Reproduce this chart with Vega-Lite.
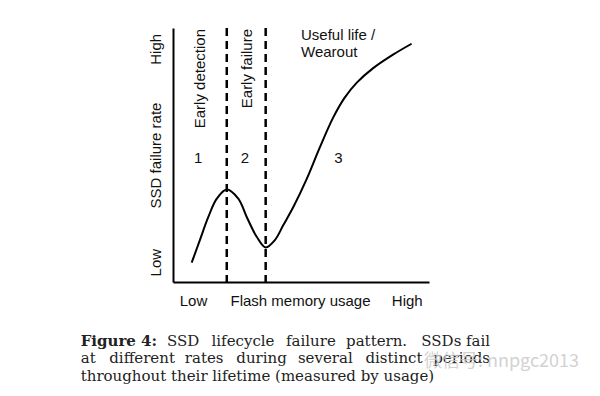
{
  "$schema": "https://vega.github.io/schema/vega-lite/v6.json",
  "width": 256,
  "height": 254,
  "autosize": {"type": "none"},
  "padding": {"left": 173, "top": 28, "right": 171, "bottom": 114},
  "background": "white",
  "config": {"view": {"stroke": null}, "font": "Liberation Sans"},
  "datasets": {
    "curve": [
      {"usage": 7.3, "rate": 7.6},
      {"usage": 10.5, "rate": 16.5},
      {"usage": 13.8, "rate": 25.6},
      {"usage": 17.1, "rate": 32.8},
      {"usage": 21.0, "rate": 36.4},
      {"usage": 25.5, "rate": 32.8},
      {"usage": 28.8, "rate": 25.6},
      {"usage": 32.7, "rate": 17.8},
      {"usage": 36.2, "rate": 13.6},
      {"usage": 39.8, "rate": 16.5},
      {"usage": 43.1, "rate": 22.4},
      {"usage": 47.0, "rate": 29.5},
      {"usage": 52.2, "rate": 40.5},
      {"usage": 57.4, "rate": 53.1},
      {"usage": 62.6, "rate": 64.8},
      {"usage": 67.0, "rate": 72.5},
      {"usage": 71.8, "rate": 78.5},
      {"usage": 78.2, "rate": 84.2},
      {"usage": 86.1, "rate": 89.6},
      {"usage": 93.2, "rate": 93.8}
    ],
    "dividers": [{"usage": 21.0}, {"usage": 36.2}],
    "phases": [
      {"label": "Early detection", "usage": 10.5, "rate": 99.6},
      {"label": "Early failure", "usage": 28.8, "rate": 99.6}
    ],
    "wearout": [
      {"label": "Useful life /", "usage": 50.0, "rate": 95.2},
      {"label": "Wearout", "usage": 50.0, "rate": 88.4}
    ],
    "numbers": [
      {"label": "1", "usage": 9.8, "rate": 46.7},
      {"label": "2", "usage": 28.1, "rate": 46.7},
      {"label": "3", "usage": 64.6, "rate": 46.7}
    ],
    "capBold": [{"label": "Figure 4:", "usage": -36.05, "rate": -25.1}],
    "capLeft": [
      {"label": "SSD", "usage": -2.34, "rate": -25.1},
      {"label": "lifecycle", "usage": 15.04, "rate": -25.1},
      {"label": "failure", "usage": 44.14, "rate": -25.1},
      {"label": "pattern.", "usage": 67.6, "rate": -25.1},
      {"label": "SSDs", "usage": 97.0, "rate": -25.1},
      {"label": "at", "usage": -36.05, "rate": -32.0},
      {"label": "different", "usage": -24.9, "rate": -32.0},
      {"label": "rates", "usage": 4.61, "rate": -32.0},
      {"label": "during", "usage": 24.75, "rate": -32.0},
      {"label": "several", "usage": 48.79, "rate": -32.0},
      {"label": "distinct", "usage": 75.18, "rate": -32.0},
      {"label": "throughout their lifetime (measured by usage)", "usage": -36.05, "rate": -38.8}
    ],
    "capRight": [
      {"label": "fail", "usage": 123.83, "rate": -25.1},
      {"label": "periods", "usage": 123.83, "rate": -32.0}
    ],
    "watermark": [{"label": "微信号: nnpgc2013", "usage": 98.0, "rate": -31.5}]
  },
  "layer": [
    {
      "data": {"name": "dividers"},
      "mark": {"type": "rule", "color": "black", "strokeWidth": 2.5, "strokeDash": [8, 5]},
      "encoding": {
        "x": {"field": "usage", "type": "quantitative", "scale": {"domain": [0, 100]}}
      }
    },
    {
      "data": {"name": "curve"},
      "mark": {"type": "line", "interpolate": "catmull-rom", "color": "black", "strokeWidth": 2},
      "encoding": {
        "x": {
          "field": "usage", "type": "quantitative", "scale": {"domain": [0, 100]},
          "axis": {
            "values": [7.8, 91.3],
            "labelExpr": "datum.value < 50 ? 'Low' : 'High'",
            "title": "Flash memory usage",
            "domainColor": "black", "domainWidth": 2,
            "ticks": false, "tickSize": 0, "grid": false,
            "labelFont": "Liberation Sans", "labelFontSize": 15, "labelColor": "#111",
            "labelPadding": 18, "labelBaseline": "middle", "labelFlush": false,
            "titleFont": "Liberation Sans", "titleFontSize": 15, "titleFontWeight": "normal", "titleColor": "#111",
            "titleX": 127, "titleY": 18, "titleBaseline": "middle", "titleAlign": "center"
          }
        },
        "y": {
          "field": "rate", "type": "quantitative", "scale": {"domain": [0, 100]},
          "axis": {
            "values": [7.8, 91.8],
            "labelExpr": "datum.value < 50 ? 'Low' : 'High'",
            "title": "SSD failure rate",
            "domainColor": "black", "domainWidth": 2,
            "ticks": false, "tickSize": 0, "grid": false,
            "labelFont": "Liberation Sans", "labelFontSize": 15, "labelColor": "#111",
            "labelAngle": 270, "labelAlign": "center", "labelBaseline": "middle",
            "labelPadding": 18, "labelFlush": false,
            "titleFont": "Liberation Sans", "titleFontSize": 15, "titleFontWeight": "normal", "titleColor": "#111",
            "titleAngle": 270, "titleX": -18, "titleY": 127, "titleBaseline": "middle", "titleAlign": "center"
          }
        }
      }
    },
    {
      "data": {"name": "phases"},
      "mark": {"type": "text", "angle": 270, "align": "right", "baseline": "middle", "fontSize": 15, "color": "#111", "font": "Liberation Sans"},
      "encoding": {
        "x": {"field": "usage", "type": "quantitative"},
        "y": {"field": "rate", "type": "quantitative"},
        "text": {"field": "label"}
      }
    },
    {
      "data": {"name": "wearout"},
      "mark": {"type": "text", "align": "left", "baseline": "alphabetic", "fontSize": 15, "color": "#111", "font": "Liberation Sans"},
      "encoding": {
        "x": {"field": "usage", "type": "quantitative"},
        "y": {"field": "rate", "type": "quantitative"},
        "text": {"field": "label"}
      }
    },
    {
      "data": {"name": "numbers"},
      "mark": {"type": "text", "align": "center", "baseline": "alphabetic", "fontSize": 15, "color": "#111", "font": "Liberation Sans"},
      "encoding": {
        "x": {"field": "usage", "type": "quantitative"},
        "y": {"field": "rate", "type": "quantitative"},
        "text": {"field": "label"}
      }
    },
    {
      "data": {"name": "capBold"},
      "mark": {"type": "text", "align": "left", "baseline": "alphabetic", "fontSize": 15, "fontWeight": "bold", "color": "#222", "font": "DejaVu Serif"},
      "encoding": {
        "x": {"field": "usage", "type": "quantitative"},
        "y": {"field": "rate", "type": "quantitative"},
        "text": {"field": "label"}
      }
    },
    {
      "data": {"name": "capLeft"},
      "mark": {"type": "text", "align": "left", "baseline": "alphabetic", "fontSize": 15, "color": "#222", "font": "DejaVu Serif"},
      "encoding": {
        "x": {"field": "usage", "type": "quantitative"},
        "y": {"field": "rate", "type": "quantitative"},
        "text": {"field": "label"}
      }
    },
    {
      "data": {"name": "capRight"},
      "mark": {"type": "text", "align": "right", "baseline": "alphabetic", "fontSize": 15, "color": "#222", "font": "DejaVu Serif"},
      "encoding": {
        "x": {"field": "usage", "type": "quantitative"},
        "y": {"field": "rate", "type": "quantitative"},
        "text": {"field": "label"}
      }
    },
    {
      "data": {"name": "watermark"},
      "mark": {"type": "text", "align": "left", "baseline": "middle", "fontSize": 18, "color": "#c8c8c8", "opacity": 0.8, "font": "Noto Sans CJK SC"},
      "encoding": {
        "x": {"field": "usage", "type": "quantitative"},
        "y": {"field": "rate", "type": "quantitative"},
        "text": {"field": "label"}
      }
    }
  ]
}
